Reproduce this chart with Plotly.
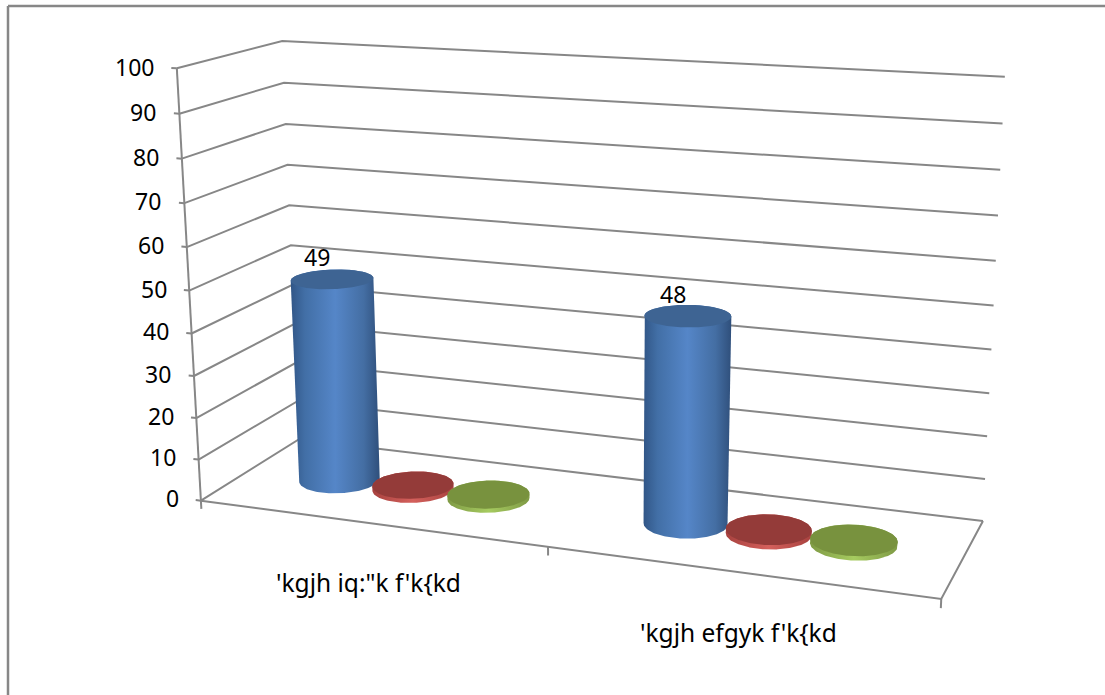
import numpy as np
import plotly.graph_objects as go

# Chart content
categories = ["'kgjh iq:\"k f'k{kd", "'kgjh efgyk f'k{kd"]
series_a = [49, 48]
series_b = [1, 1]
series_c = [1, 1]
value_ticks = [0, 10, 20, 30, 40, 50, 60, 70, 80, 90, 100]

# Appearance
GREY = "#878787"
FONT = dict(family="Noto Sans", size=23, color="black")
CATEGORY_FONT = dict(family="Noto Sans", size=24.5, color="black")
SERIES_STYLE = [
    dict(side=[(0, "#315687"), (0.16, "#426fa6"), (0.5, "#5586c8"), (0.82, "#446ea3"), (1, "#2f4f7b")], top="#3e6493"),
    dict(side=[(0, "#a8423f"), (0.5, "#d4605c"), (1, "#a8423f")], top="#943b39"),
    dict(side=[(0, "#7f9a45"), (0.5, "#a6cb60"), (1, "#7f9a45")], top="#78923e"),
]

# Perspective view of the chart box: box corner (across, depth, height) -> page position
VIEW_POINTS = [
    ((0, 0, 0), (200, 500)),
    ((0, 0, 1), (178, 68)),
    ((0, 1, 1), (281, 41)),
    ((1, 1, 1), (1005, 77)),
    ((1, 1, 0), (983, 520)),
    ((1, 0, 0), (941, 600)),
    ((0, 1, 0), (300, 440)),
]


def fit_view(points):
    rows = []
    for (a, b, c), (u, v) in points:
        rows.append([a, b, c, 1, 0, 0, 0, 0, -u * a, -u * b, -u * c, -u])
        rows.append([0, 0, 0, 0, a, b, c, 1, -v * a, -v * b, -v * c, -v])
    return np.linalg.svd(np.array(rows, float))[2][-1].reshape(3, 4)


VIEW = fit_view(VIEW_POINTS)


def project(across, depth, value):
    """Page position of a point on the across/depth/value axes of the box."""
    across, depth, value = np.broadcast_arrays(across, depth, value)
    world = np.stack([across, depth, value / 100.0, np.ones_like(across, dtype=float)])
    p = VIEW @ world
    return p[0] / p[2], p[1] / p[2]


def hull(xs, ys):
    pts = sorted(set(zip(xs.tolist(), ys.tolist())))

    def half(seq):
        out = []
        for p in seq:
            while len(out) > 1 and (out[-1][0] - out[-2][0]) * (p[1] - out[-2][1]) - (out[-1][1] - out[-2][1]) * (p[0] - out[-2][0]) <= 0:
                out.pop()
            out.append(p)
        return out[:-1]

    ring = half(pts) + half(pts[::-1])
    ring.append(ring[0])
    return [p[0] for p in ring], [p[1] for p in ring]


fig = go.Figure()


def add_line(across, depth, value, width=2):
    x, y = project(np.array(across, float), np.array(depth, float), np.array(value, float))
    fig.add_trace(go.Scatter(x=x, y=y, mode="lines", line=dict(color=GREY, width=width), hoverinfo="skip"))


# Gridlines run along the left wall and then the back wall
for v in value_ticks:
    add_line([0, 0, 1], [0, 1, 1], [v, v, v])
    add_line([0, -0.008], [0, 0], [v, v])

# Value axis, floor edges and category separators
add_line([0, 0], [0, 0], [0, 100])
add_line([0, 1, 1], [0, 0, 1], [0, 0, 0])
for a in (0, 0.5, 1):
    add_line([a, a], [0, 0], [0, -2])

annotations = []

# Value tick labels
for v in value_ticks:
    x, y = project(np.array(-0.031), np.array(0.0), np.array(float(v)))
    annotations.append(dict(x=float(x), y=float(y), text=str(v), showarrow=False, font=FONT,
                            xanchor="right", yanchor="middle"))

# Cylinders
RADIUS_ACROSS = 0.055
RADIUS_DEPTH = 0.2
SPACING = 0.1115
GROUP_CENTRES = (0.248, 0.7495)
theta = np.linspace(0, 2 * np.pi, 181)
for c, centre in enumerate(GROUP_CENTRES):
    for s, values in enumerate((series_a, series_b, series_c)):
        value = values[c]
        style = SERIES_STYLE[s]
        cx = centre + (s - 1) * SPACING
        ca = cx + RADIUS_ACROSS * np.cos(theta)
        cd = 0.5 + RADIUS_DEPTH * np.sin(theta)
        bx, by = project(ca, cd, np.zeros_like(ca))
        tx, ty = project(ca, cd, np.full_like(ca, value, dtype=float))
        hx, hy = hull(np.round(np.r_[bx, tx], 2), np.round(np.r_[by, ty], 2))
        fig.add_trace(go.Scatter(x=hx, y=hy, mode="lines", fill="toself", line=dict(width=0),
                                 fillgradient=dict(type="horizontal", colorscale=style["side"]),
                                 hoverinfo="skip"))
        fig.add_trace(go.Scatter(x=tx, y=ty, mode="lines", fill="toself", line=dict(width=0),
                                 fillcolor=style["top"], hoverinfo="skip"))

# Value labels above the tall cylinders, category names below the floor
for c, centre in enumerate(GROUP_CENTRES):
    cx = centre - SPACING
    x, y = project(np.array(cx), np.array(0.5), np.array(float(series_a[c])))
    annotations.append(dict(x=float(x), y=float(y), text=str(series_a[c]), showarrow=False, font=FONT,
                            xshift=-15, yshift=22))
    x, y = project(np.array(centre), np.array(0.0), np.array(0.0))
    annotations.append(dict(x=float(x), y=float(y), text=categories[c], showarrow=False, font=CATEGORY_FONT,
                            xshift=1, yshift=-60))

fig.update_layout(
    width=1105, height=695, margin=dict(l=0, r=0, t=0, b=0),
    paper_bgcolor="white", plot_bgcolor="white", showlegend=False,
    xaxis=dict(range=[0, 1105], visible=False, fixedrange=True),
    yaxis=dict(range=[695, 0], visible=False, fixedrange=True),
    annotations=annotations,
    # Chart area outline: only the top and left edges fall on the page
    shapes=[
        dict(type="line", xref="x", yref="y", x0=8, x1=1105, y0=6, y1=6, line=dict(color=GREY, width=2.5)),
        dict(type="line", xref="x", yref="y", x0=8, x1=8, y0=6, y1=695, line=dict(color=GREY, width=2.5)),
    ],
)

fig.write_html("out.html")
